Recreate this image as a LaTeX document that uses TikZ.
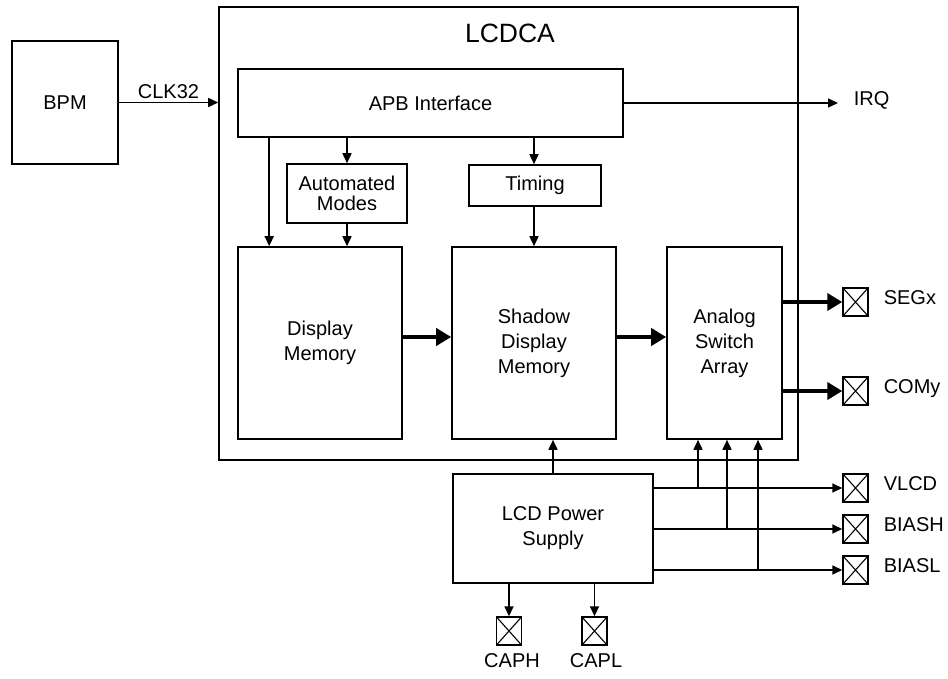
\documentclass[tikz,border=0pt]{standalone}
\usepackage{fontspec}
\setmainfont{Liberation Sans}
\usetikzlibrary{positioning,arrows.meta}

\begin{document}
\begin{tikzpicture}[
  x=1pt, y=-1pt,
  font=\fontsize{20}{25}\selectfont,
  line width=1.6pt,
  blk/.style={rectangle, draw=black, line width=1.6pt, inner sep=2pt, align=center},
  pad/.style={rectangle, draw=black, line width=1.4pt, minimum width=25pt, minimum height=28pt, inner sep=0pt,
              path picture={\draw[line width=1.1pt] (path picture bounding box.north west) -- (path picture bounding box.south east)
                            (path picture bounding box.north east) -- (path picture bounding box.south west);}},
  sig/.style={anchor=mid west, inner sep=0pt},
  arr/.style={-{Triangle[length=10pt,width=9pt]}, line width=1.6pt},
  bus/.style={-{Triangle[length=15pt,width=17pt]}, line width=4.5pt}
]
\useasboundingbox (0,0) rectangle (948,678);

\node[blk, minimum width=106pt, minimum height=123pt] (bpm)    at (65,102.5)   {BPM};
\node[blk, minimum width=579pt, minimum height=453pt] (lcdca)  at (508.5,233.5) {};
\node[font=\fontsize{26.5}{30}\selectfont]            (title)  at (510,33)     {LCDCA};
\node[blk, minimum width=385pt, minimum height=68pt]  (apb)    at (430.5,103)  {APB Interface};
\node[blk, minimum width=120pt, minimum height=59pt,
      font=\fontsize{20}{19.5}\selectfont]            (auto)   at (347,193.5)  {Automated\\Modes};
\node[blk, minimum width=132pt, minimum height=41pt]  (timing) at (535,185.5)  {Timing};
\node[blk, minimum width=164pt, minimum height=192pt] (dmem)   at (320,343)    {Display\\Memory};
\node[blk, minimum width=164pt, minimum height=192pt] (shadow) at (534,343)    {Shadow\\Display\\Memory};
\node[blk, minimum width=115pt, minimum height=192pt] (analog) at (724.5,343)  {Analog\\Switch\\Array};
\node[blk, minimum width=200pt, minimum height=109pt] (pwr)    at (553,528.5)  {LCD Power\\Supply};

\node[pad] (pseg)   at (855.5,302) {};
\node[pad] (pcom)   at (855.5,391) {};
\node[pad] (pvlcd)  at (855.5,488) {};
\node[pad] (pbiash) at (855.5,529) {};
\node[pad] (pbiasl) at (855.5,570) {};
\node[pad] (pcaph)  at (509,631)   {};
\node[pad] (pcapl)  at (594.5,631) {};

\node[sig] (irq)   at (853,103) {IRQ};
\node[sig] (seg)   at (883,302) {SEGx};
\node[sig] (com)   at (883,391) {COMy};
\node[sig] (vlcd)  at (883,488) {VLCD};
\node[sig] (biash) at (883,529) {BIASH};
\node[sig] (biasl) at (883,570) {BIASL};
\node[anchor=mid, inner sep=0pt] (caph) at (512,665) {CAPH};
\node[anchor=mid, inner sep=0pt] (capl) at (596,665) {CAPL};
\coordinate (irqtip) at (838,103);

\draw[arr] (bpm.east) -- (bpm.east -| lcdca.west) node[midway, above] {CLK32};
\draw[arr] (apb.east) -- (irqtip);
\draw[arr] ([xshift=32pt]apb.south west) -- ([xshift=32pt]dmem.north west);
\draw[arr] (apb.south -| auto) -- (auto.north);
\draw[arr] (auto.south) -- (auto.south |- dmem.north);
\draw[arr] (apb.south -| shadow) -- (timing.north -| shadow);
\draw[arr] (timing.south -| shadow) -- (shadow.north);

\draw[bus] (dmem.east |- 0,337) -- (shadow.west |- 0,337);
\draw[bus] (shadow.east |- 0,337) -- (analog.west |- 0,337);
\draw[bus] (analog.east |- pseg) -- (pseg.west);
\draw[bus] (analog.east |- pcom) -- (pcom.west);

\draw[arr] (pwr.north) -- (pwr.north |- shadow.south);
\foreach \p/\x in {pvlcd/698, pbiash/727, pbiasl/758} {
  \draw[arr] (pwr.east |- \p) -- (\p.west);
  \draw[arr] (\x,0 |- \p) -- (\x,0 |- analog.south);
}
\draw[arr] (pwr.south -| pcaph) -- (pcaph.north);
\draw[arr] (pwr.south -| pcapl) -- (pcapl.north);
\end{tikzpicture}
\end{document}
